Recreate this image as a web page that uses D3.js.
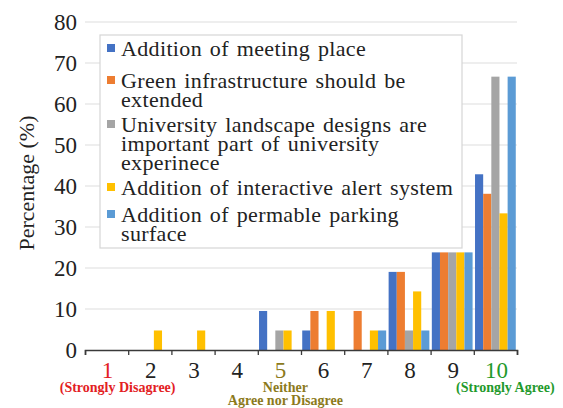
<!DOCTYPE html>
<html>
<head>
<meta charset="utf-8">
<script src="https://cdn.jsdelivr.net/npm/d3@7/dist/d3.min.js"></script>
<style>
  html, body { margin: 0; padding: 0; background: #fff; }
  svg { display: block; }
</style>
</head>
<body>
<svg id="chart" width="563" height="408"></svg>
<script>
// Likert scale categories (1 = strongly disagree, 10 = strongly agree)
const categories = ["1", "2", "3", "4", "5", "6", "7", "8", "9", "10"];

// Series names as shown in the legend
const seriesNames = [
  "Addition of meeting place",
  "Green infrastructure should be extended",
  "University landscape designs are important part of university experinece",
  "Addition of interactive alert system",
  "Addition of permable parking surface"
];

// Percentage of respondents per score, one array per series
const meetingPlace      = [0, 0,    0,    0, 9.52, 4.76, 0,    19.05, 23.81, 42.86];
const greenInfra        = [0, 0,    0,    0, 0,    9.52, 9.52, 19.05, 23.81, 38.10];
const landscapeDesign   = [0, 0,    0,    0, 4.76, 0,    0,    4.76,  23.81, 66.67];
const alertSystem       = [0, 4.76, 4.76, 0, 4.76, 9.52, 4.76, 14.29, 23.81, 33.33];
const permeableParking  = [0, 0,    0,    0, 0,    0,    4.76, 4.76,  23.81, 66.67];

const seriesValues = [meetingPlace, greenInfra, landscapeDesign, alertSystem, permeableParking];
const seriesColors = ["#4472c4", "#ed7d31", "#a5a5a5", "#ffc000", "#5b9bd5"];

// Legend lines (wrapped text per entry)
const legendLines = [
  ["Addition of meeting place"],
  ["Green infrastructure should be", "extended"],
  ["University landscape designs are", "important part of university", "experinece"],
  ["Addition of interactive alert system"],
  ["Addition of permable parking", "surface"]
];

const yTicks = [0, 10, 20, 30, 40, 50, 60, 70, 80];

// Special colours for the anchor points of the scale
const catColors = { "1": "#e3211f", "5": "#8c7a1c", "10": "#1f9a2c" };
const subLabels = [
  { cat: "1",  lines: ["(Strongly Disagree)"], dx: 11 },
  { cat: "5",  lines: ["Neither", "Agree nor Disagree"], dx: 6 },
  { cat: "10", lines: ["(Strongly Agree)"], dx: 10 }
];

const FONT = "'Liberation Serif', 'DejaVu Serif', serif";

const svg = d3.select("#chart").attr("font-family", FONT);
const plotLeft = 85, plotRight = 517, plotTop = 22, plotBottom = 350;

const x = d3.scaleBand().domain(categories).range([plotLeft, plotRight]).paddingInner(0).paddingOuter(0);
const xInner = d3.scaleBand().domain(d3.range(seriesNames.length))
  .range([0, x.bandwidth()]).paddingInner(0).paddingOuter(0.15);
const y = d3.scaleLinear().domain([0, 80]).range([plotBottom, plotTop]);

// Gridlines
svg.append("g")
  .selectAll("line")
  .data(yTicks.filter(d => d > 0))
  .join("line")
  .attr("x1", plotLeft).attr("x2", plotRight)
  .attr("y1", d => y(d)).attr("y2", d => y(d))
  .attr("stroke", "#dedede").attr("stroke-width", 1.2);

// Y axis labels
const yAxis = svg.append("g")
  .attr("transform", `translate(${plotLeft},0)`)
  .call(d3.axisLeft(y).tickValues(yTicks).tickSize(0).tickPadding(8));
yAxis.attr("font-family", FONT).attr("font-size", 23);
yAxis.select(".domain").remove();
yAxis.selectAll("text").attr("fill", "#222");

// Bars
const groups = svg.append("g")
  .selectAll("g")
  .data(seriesValues)
  .join("g")
  .attr("fill", (d, i) => seriesColors[i]);

groups.each(function (vals, si) {
  d3.select(this).selectAll("rect")
    .data(vals.map((v, ci) => ({ v, c: categories[ci] })).filter(d => d.v > 0))
    .join("rect")
    .attr("x", d => x(d.c) + xInner(si))
    .attr("width", xInner.bandwidth())
    .attr("y", d => y(d.v))
    .attr("height", d => y(0) - y(d.v));
});

// X axis line with ticks at category boundaries
const xb = d3.scaleLinear().domain([0, categories.length]).range([plotLeft, plotRight]);
const xAxis = svg.append("g")
  .attr("transform", `translate(0,${plotBottom})`)
  .call(d3.axisBottom(xb).ticks(categories.length).tickFormat("").tickSize(5).tickSizeOuter(5));
xAxis.select(".domain").attr("stroke", "#3a3a3a").attr("stroke-width", 1.6);
xAxis.selectAll(".tick line").attr("stroke", "#3a3a3a").attr("stroke-width", 1.3);

// Category labels
svg.append("g")
  .selectAll("text")
  .data(categories)
  .join("text")
  .attr("x", d => x(d) + x.bandwidth() / 2 + 1)
  .attr("y", 378)
  .attr("text-anchor", "middle")
  .attr("font-family", FONT)
  .attr("font-size", 23)
  .attr("fill", d => catColors[d] || "#222")
  .text(d => d);

// Descriptive labels under the anchor scores
subLabels.forEach(s => {
  const t = svg.append("text")
    .attr("text-anchor", "middle")
    .attr("font-family", FONT)
    .attr("font-size", 14)
    .attr("font-weight", "bold")
    .attr("fill", catColors[s.cat]);
  s.lines.forEach((line, i) => {
    t.append("tspan")
      .attr("x", x(s.cat) + x.bandwidth() / 2 + s.dx)
      .attr("y", 392 + i * 13)
      .text(line);
  });
});

// Y axis title
svg.append("text")
  .attr("transform", "translate(34,183) rotate(-90)")
  .attr("text-anchor", "middle")
  .attr("font-family", FONT)
  .attr("font-size", 22)
  .attr("fill", "#222")
  .text("Percentage (%)");

// Legend
const legend = svg.append("g");
legend.append("rect")
  .attr("x", 100).attr("y", 35).attr("width", 362).attr("height", 213)
  .attr("fill", "#fff").attr("stroke", "#d6d6d6").attr("stroke-width", 1.2);

const entryBaselines = [56, 88, 132, 195, 222];
legendLines.forEach((lines, i) => {
  const base = entryBaselines[i];
  legend.append("rect")
    .attr("x", 107).attr("y", base - 12).attr("width", 8).attr("height", 8)
    .attr("fill", seriesColors[i]);
  const t = legend.append("text")
    .attr("font-family", FONT)
    .attr("font-size", 22)
    .attr("fill", "#222")
    .attr("letter-spacing", 0.35)
    .attr("word-spacing", 2);
  lines.forEach((line, j) => {
    t.append("tspan")
      .attr("x", 121)
      .attr("y", base + j * 19)
      .text(line);
  });
});
</script>
</body>
</html>
